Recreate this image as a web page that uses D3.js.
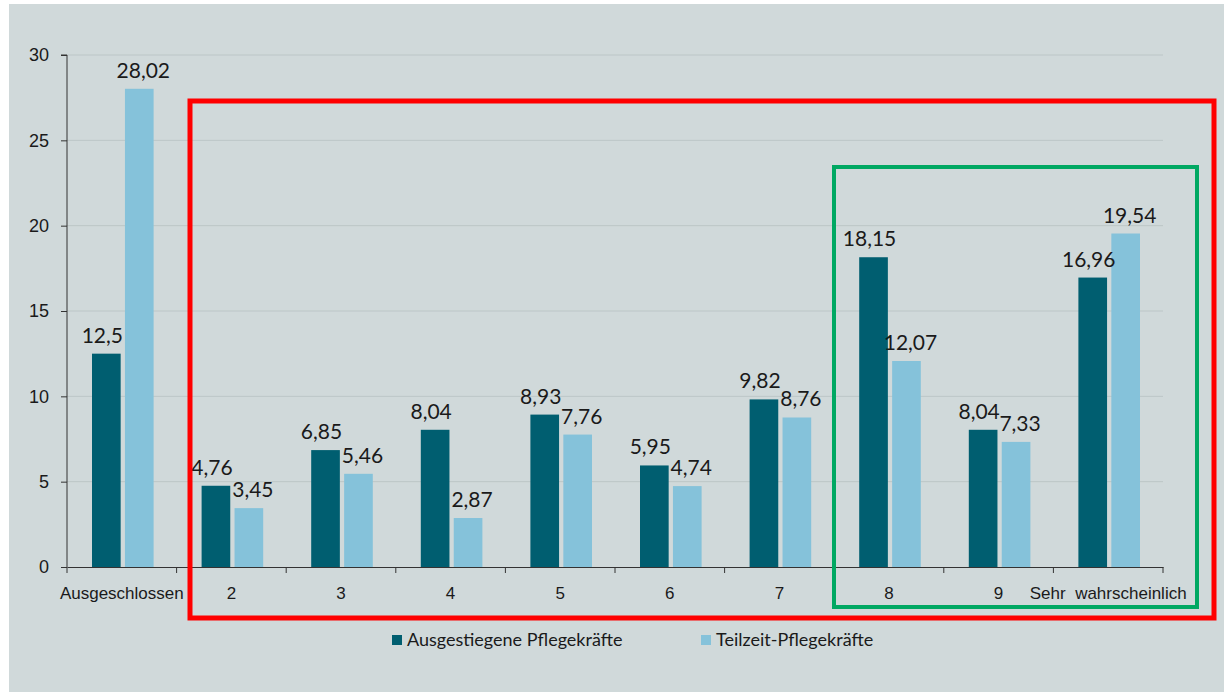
<!DOCTYPE html>
<html>
<head>
<meta charset="utf-8">
<script src="https://cdn.jsdelivr.net/npm/d3@7"></script>
<style>
  body { margin: 0; background: #fff; }
  svg { display: block; font-family: Lato, "Open Sans", sans-serif; }
</style>
</head>
<body>
<div id="chart"></div>
<script>
const categories = ['Ausgeschlossen', '2', '3', '4', '5', '6', '7', '8', '9', 'Sehr  wahrscheinlich'];
const ausgestiegen = [12.5, 4.76, 6.85, 8.04, 8.93, 5.95, 9.82, 18.15, 8.04, 16.96];
const teilzeit = [28.02, 3.45, 5.46, 2.87, 7.76, 4.74, 8.76, 12.07, 7.33, 19.54];
const seriesNames = ['Ausgestiegene Pflegekräfte', 'Teilzeit-Pflegekräfte'];
const yTicks = [0, 5, 10, 15, 20, 25, 30];

const width = 1224, height = 692;
const margin = { top: 55, right: 61, bottom: 125, left: 67 };
const colors = ['#005e70', '#85c2da'];

const svg = d3.select('#chart').append('svg')
  .attr('width', width)
  .attr('height', height);

// panel background
svg.append('rect')
  .attr('x', 9).attr('y', 4)
  .attr('width', width - 9).attr('height', height - 4)
  .attr('fill', '#d0d9da');

const x = d3.scaleBand()
  .domain(categories)
  .range([margin.left, width - margin.right]);

const x1 = d3.scaleBand()
  .domain([0, 1])
  .range([25, x.bandwidth() - 23])
  .paddingInner(0.13);

const y = d3.scaleLinear()
  .domain([0, 30])
  .range([height - margin.bottom, margin.top]);

// gridlines
svg.append('g')
  .selectAll('line')
  .data(yTicks.filter(d => d > 0))
  .join('line')
  .attr('x1', margin.left).attr('x2', width - margin.right)
  .attr('y1', d => y(d)).attr('y2', d => y(d))
  .attr('stroke', '#bcc6c7')
  .attr('stroke-width', 1);

// y axis
const yAxis = svg.append('g')
  .attr('transform', `translate(${margin.left},0)`)
  .call(d3.axisLeft(y).tickValues(yTicks).tickSize(6).tickPadding(12));
yAxis.select('.domain').attr('stroke', '#333').attr('d', `M-6,${y(30)}H0V${y(0)}`);
yAxis.selectAll('.tick line').attr('stroke', '#333');
yAxis.selectAll('.tick text').attr('font-size', 18).attr('fill', '#1a1a1a');

// x axis
const xAxis = svg.append('g')
  .attr('transform', `translate(0,${y(0)})`)
  .call(d3.axisBottom(x).tickSize(0).tickPadding(20));
xAxis.select('.domain').attr('stroke', '#333');
xAxis.selectAll('.tick text').attr('font-size', 17).attr('fill', '#1a1a1a')
  .style('white-space', 'pre').attr('xml:space', 'preserve');

// category boundary ticks
svg.append('g')
  .selectAll('line')
  .data(d3.range(categories.length + 1))
  .join('line')
  .attr('x1', i => margin.left + i * x.step())
  .attr('x2', i => margin.left + i * x.step())
  .attr('y1', y(0)).attr('y2', y(0) + 6)
  .attr('stroke', '#333');

// bars
const rows = categories.map((c, i) => ({ c, v: [ausgestiegen[i], teilzeit[i]] }));
const groups = svg.append('g')
  .selectAll('g')
  .data(rows)
  .join('g')
  .attr('transform', d => `translate(${x(d.c)},0)`);

groups.selectAll('rect')
  .data(d => d.v.map((v, k) => ({ v, k })))
  .join('rect')
  .attr('x', d => x1(d.k))
  .attr('width', x1.bandwidth())
  .attr('y', d => y(d.v))
  .attr('height', d => y(0) - y(d.v))
  .attr('fill', d => colors[d.k]);

groups.selectAll('text')
  .data(d => d.v.map((v, k) => ({ v, k })))
  .join('text')
  .attr('x', d => x1(d.k) + x1.bandwidth() / 2 + (d.k ? 4 : -4))
  .attr('y', d => y(d.v) - 11)
  .attr('text-anchor', 'middle')
  .attr('font-size', 21)
  .attr('fill', '#1a1a1a')
  .text(d => String(d.v).replace('.', ','));

// legend
const legendX = [392, 701];
const legend = svg.append('g')
  .selectAll('g')
  .data(seriesNames)
  .join('g')
  .attr('transform', (d, i) => `translate(${legendX[i]},635)`);
legend.append('rect')
  .attr('width', 10).attr('height', 10)
  .attr('fill', (d, i) => colors[i]);
legend.append('text')
  .attr('x', 15).attr('y', 11)
  .attr('font-size', 18)
  .attr('fill', '#1a1a1a')
  .text(d => d);

// highlight boxes
svg.append('rect')
  .attr('x', 190).attr('y', 101)
  .attr('width', 1024).attr('height', 517)
  .attr('fill', 'none')
  .attr('stroke', '#ff0000')
  .attr('stroke-width', 5);

svg.append('rect')
  .attr('x', 834).attr('y', 167)
  .attr('width', 363).attr('height', 440)
  .attr('fill', 'none')
  .attr('stroke', '#00a862')
  .attr('stroke-width', 4);
</script>
</body>
</html>
